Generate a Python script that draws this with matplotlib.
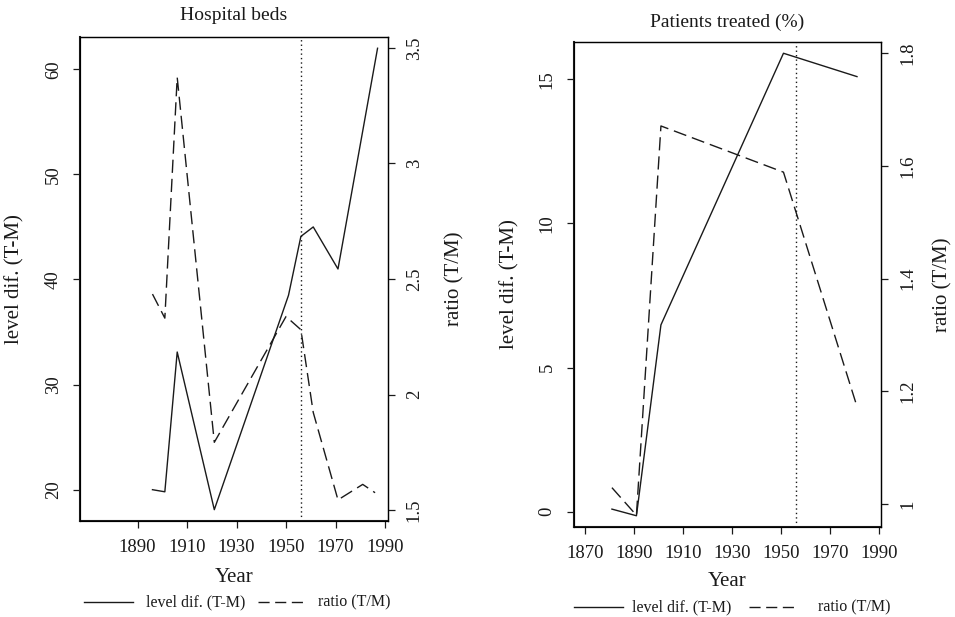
import matplotlib
matplotlib.use("Agg")
import matplotlib.pyplot as plt
from matplotlib.lines import Line2D

plt.rcParams['font.family'] = ['Liberation Serif', 'DejaVu Serif']

# ---- Data: Hospital beds ----
beds_level_years = [1896, 1901, 1906, 1921, 1951, 1956, 1961, 1971, 1987]
beds_level = [20.0, 19.8, 33.1, 18.1, 38.5, 44.1, 45.0, 41.0, 62.0]
beds_ratio_years = [1896, 1901, 1906, 1921, 1950, 1956, 1961, 1971, 1981, 1986]
beds_ratio = [2.435, 2.331, 3.372, 1.794, 2.338, 2.281, 1.923, 1.545, 1.612, 1.576]

# ---- Data: Patients treated (%) ----
pat_years = [1881, 1891, 1901, 1951, 1981]
pat_level = [0.09, -0.14, 6.48, 15.9, 15.09]
pat_ratio = [1.029, 0.980, 1.671, 1.589, 1.173]

beds_left_ticks = [20, 30, 40, 50, 60]
beds_right_ticks = [1.5, 2, 2.5, 3, 3.5]
beds_right_labels = ["1.5", "2", "2.5", "3", "3.5"]
beds_xticks = [1890, 1910, 1930, 1950, 1970, 1990]
pat_left_ticks = [0, 5, 10, 15]
pat_right_ticks = [1.0, 1.2, 1.4, 1.6, 1.8]
pat_right_labels = ["1", "1.2", "1.4", "1.6", "1.8"]
pat_xticks = [1870, 1890, 1910, 1930, 1950, 1970, 1990]
vline_year = 1956

W, H = 955, 617
fig = plt.figure(figsize=(W / 100, H / 100), dpi=100)

DASH = (0, (9.5, 4.3))
DOT = (0, (1, 2.2))
FS = 13.5
INK = '#1a1a1a'


def px_axes(x0, y0, x1, y1):
    return fig.add_axes([x0 / W, 1 - y1 / H, (x1 - x0) / W, (y1 - y0) / H])


def style(ax, tw):
    for s in ['top', 'right', 'left', 'bottom']:
        ax.spines[s].set_linewidth(1.0)
        ax.spines[s].set_color(INK)
    for a in (ax, tw):
        a.tick_params(direction='out', length=5, width=0.9, labelsize=FS, pad=8,
                      color=INK, labelcolor=INK)
    for lab in ax.get_yticklabels() + tw.get_yticklabels():
        lab.set_rotation(90)
        lab.set_va('center')
    ax.spines['left'].set_linewidth(1.5)
    ax.spines['bottom'].set_linewidth(1.5)


def panel(box, xlim, ylim, ylim2, lyears, lvals, ryears, rvals,
          lticks, rticks, rlabels, xticks, title, title_y, ylab_x, ylab2_x,
          xlab_y, leg_y, leg_x):
    ax = px_axes(*box)
    ax.plot(lyears, lvals, color=INK, lw=1.0)
    ax.axvline(vline_year, color=INK, lw=1.0, linestyle=DOT)
    ax.set_xlim(*xlim)
    ax.set_ylim(*ylim)
    ax.set_yticks(lticks)
    ax.set_yticklabels([str(t) for t in lticks])
    ax.set_xticks(xticks)
    ax.set_xticklabels([str(t) for t in xticks])
    tw = ax.twinx()
    tw.plot(ryears, rvals, color=INK, lw=1.0, linestyle=DASH)
    tw.set_ylim(*ylim2)
    tw.set_yticks(rticks)
    tw.set_yticklabels(rlabels)
    style(ax, tw)
    cx = (box[0] + box[2]) / 2
    cy = (box[1] + box[3]) / 2
    fig.text(cx / W, 1 - title_y / H, title, ha='center', va='center',
             fontsize=14, color=INK)
    fig.text(ylab_x / W, 1 - cy / H, 'level dif. (T-M)', rotation=90,
             ha='center', va='center', fontsize=15, color=INK)
    fig.text(ylab2_x / W, 1 - cy / H, 'ratio (T/M)', rotation=90,
             ha='center', va='center', fontsize=15, color=INK)
    fig.text(cx / W, 1 - xlab_y / H, 'Year', ha='center', va='center',
             fontsize=15, color=INK)
    # legend row
    x_s0, x_s1, x_t1, x_d0, x_d1, x_t2 = leg_x
    ly = 1 - leg_y / H
    fig.add_artist(Line2D([x_s0 / W, x_s1 / W], [ly, ly], color=INK, lw=1.0))
    fig.text(x_t1 / W, ly, 'level dif. (T-M)', ha='left', va='center',
             fontsize=11.5, color=INK)
    fig.add_artist(Line2D([x_d0 / W, x_d1 / W], [ly, ly], color=INK, lw=1.0,
                          linestyle=(0, (8, 4))))
    fig.text(x_t2 / W, ly, 'ratio (T/M)', ha='left', va='center',
             fontsize=11.5, color=INK)
    return ax


panel((80, 36.7, 387.7, 520.7), (1866.7, 1991.1), (17.05, 63.1), (1.455, 3.548),
      beds_level_years, beds_level, beds_ratio_years, beds_ratio,
      beds_left_ticks, beds_right_ticks, beds_right_labels, beds_xticks,
      'Hospital beds', 16, 15, 455, 577, 602,
      (84, 133, 146, 258, 306, 318))

panel((573.7, 42.3, 881, 526.7), (1865.4, 1990.8), (-0.52, 16.28), (0.9597, 1.8195),
      pat_years, pat_level, pat_years, pat_ratio,
      pat_left_ticks, pat_right_ticks, pat_right_labels, pat_xticks,
      'Patients treated (%)', 22, 510, 943, 581, 607,
      (574, 623, 632, 749, 798, 818))

fig.savefig('out.png', dpi=100)
